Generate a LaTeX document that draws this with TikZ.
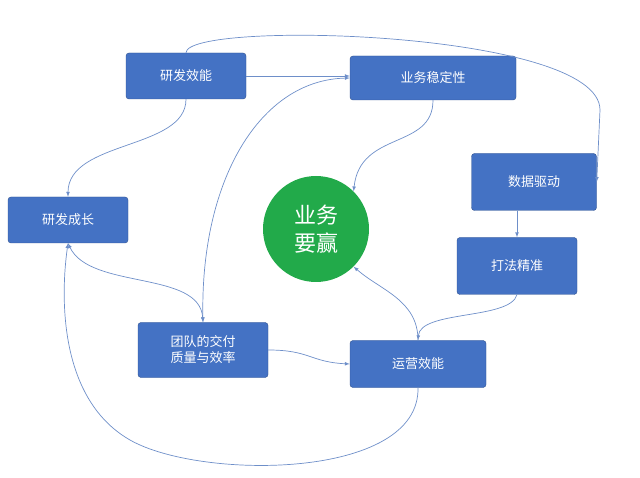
\documentclass[tikz,border=0pt]{standalone}
\usepackage{fontspec}
\newfontfamily\cjk{Noto Sans CJK SC}
\definecolor{boxblue}{HTML}{4472C4}
\definecolor{boxline}{HTML}{2F528F}
\definecolor{wingreen}{HTML}{22AA4A}
\definecolor{linkblue}{HTML}{6E8FC9}
\tikzset{
% boxes and links of the diagram
task box/.style={rectangle,rounded corners=3pt,draw=boxline,fill=boxblue,text=white,
  minimum height=46pt,align=center,font=\cjk\fontsize{13}{16}\selectfont},
link/.style={draw=linkblue,line width=0.7pt,-latex}
}
\begin{document}
\begin{tikzpicture}[x=1pt,y=-1pt]
\useasboundingbox (0,0) rectangle (640,478);
% The boxes
\node(rd)[task box,minimum width=120pt] at (186,76){研发效能};
\node(stab)[task box,minimum width=166pt,minimum height=44pt] at (433,78){业务稳定性};
\node(data)[task box,minimum width=125pt,minimum height=57pt] at (534,182){数据驱动};
\node(grow)[task box,minimum width=120pt] at (68,220){研发成长};
\node(aim)[task box,minimum width=120pt,minimum height=57pt] at (517,266){打法精准};
\node(team)[task box,minimum width=130pt,minimum height=55pt] at (203,350){团队的交付\\质量与效率};
\node(ops)[task box,minimum width=136pt,minimum height=47pt] at (418,364){运营效能};
\node(win)[circle,fill=wingreen,minimum size=106pt,text=white,align=center,
  font=\cjk\fontsize{22}{28}\selectfont] at (316,229){业务\\要赢};
% The links
\draw[link](rd.east)--(stab.west|-rd.east);
\draw[link](rd.north) .. controls (186,20) and (600,30) .. (600,110) -- (data.east);
\draw[link](rd.south) .. controls (186,150) and (68,140) .. (grow.north);
\draw[link](stab.south) .. controls (433,150) and (360,130) .. (win.north east);
\draw[link,latex-latex](team.north) .. controls (200,180) and (260,80) .. (stab.west);
\draw[link,latex-latex](grow.south) .. controls (90,290) and (200,270) .. (team.north);
\draw[link](data.south-|aim.north)--(aim.north);
\draw[link](aim.south) .. controls (510,320) and (420,310) .. (ops.north);
\draw[link](ops.north) .. controls (418,300) and (380,290) .. (win.south east);
\draw[link](team.east) .. controls (310,350) and (310,362) .. (ops.west);
\draw[link](ops.south) .. controls (420,480) and (200,480) .. (130,440)
  .. controls (60,400) and (60,300) .. (grow.south);
\end{tikzpicture}
\end{document}
